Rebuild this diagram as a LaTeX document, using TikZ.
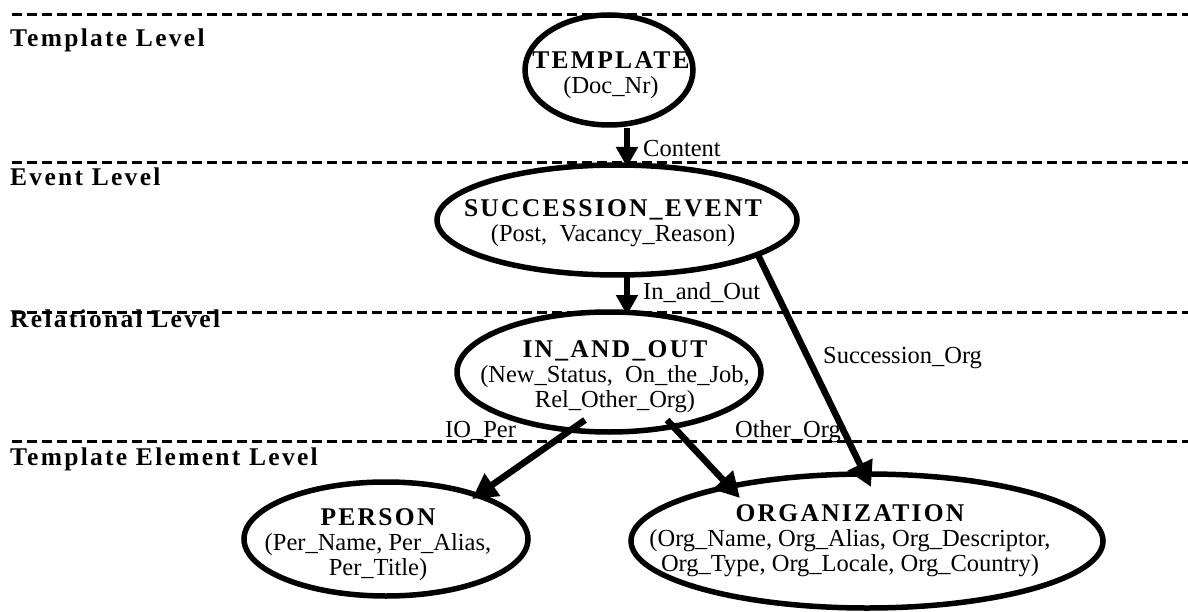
\documentclass[tikz,border=0pt]{standalone}
\usepackage{fontspec}
\setmainfont{Liberation Serif}
\newfontfamily\spfont[LetterSpace=9]{Liberation Serif}
\usetikzlibrary{arrows.meta,shapes.geometric}
\newcommand\mytitle[1]{{\spfont\bfseries\fontsize{25.5}{25}\selectfont #1}}
\begin{document}
\begin{tikzpicture}[x=1pt,y=-1pt,
  lvl/.style={line width=3pt, dash pattern=on 10pt off 5pt},
  lvltext/.style={anchor=base west, inner sep=0pt, font=\spfont\bfseries\fontsize{25.5}{25}\selectfont},
  ell/.style={draw, ellipse, line width=5.5pt, inner sep=0pt},
  body/.style={align=center, inner sep=0pt, font=\fontsize{24.5}{25}\selectfont},
  arr/.style={line width=5.5pt, -{Triangle[length=20pt,width=21pt]}},
  bigarr/.style={line width=6.5pt, -{Triangle[length=25pt,width=26pt]}},
  elabel/.style={anchor=base west, inner sep=0pt, font=\fontsize{24.5}{25}\selectfont}]
\useasboundingbox (0,0) rectangle (1188,612);

% level separators
\draw[lvl] (12,15) -- (1188,15);
\draw[lvl] (12,163) -- (1188,163);
\draw[lvl] (12,312) -- (1188,312);
\draw[lvl] (12,441) -- (1188,441);

\node[lvltext] (l1) at (10,47) {Template Level};
\node[lvltext] (l2) at (10,186) {Event Level};
\node[lvltext] (l3) at (10,327) {Relational Level};
\node[lvltext] (l4) at (10,465) {Template Element Level};

% ellipses
\node[ell, minimum width=168pt, minimum height=110pt] (tpl) at (609,70) {};
\node[body] (tplt) at (611,75) {\mytitle{TEMPLATE}\\(Doc\_Nr)};

\node[ell, minimum width=360pt, minimum height=110pt] (se) at (617,220) {};
\node[body] (set) at (613,223) {\mytitle{SUCCESSION\_EVENT}\\(Post,\ \ Vacancy\_Reason)};

\node[ell, minimum width=304pt, minimum height=120pt] (io) at (609,372) {};
\node[body] (iot) at (615,377) {\mytitle{IN\_AND\_OUT}\\(New\_Status,\ \ On\_the\_Job,\\Rel\_Other\_Org)};

\node[ell, minimum width=284pt, minimum height=114pt] (per) at (386,539) {};
\node[body] (pert) at (378,545) {\mytitle{PERSON}\\(Per\_Name, Per\_Alias,\\Per\_Title)};

\node[ell, minimum width=472pt, minimum height=134pt] (org) at (867,541) {};
\node[body] (orgt) at (850,541) {\mytitle{ORGANIZATION}\\(Org\_Name, Org\_Alias, Org\_Descriptor,\\Org\_Type, Org\_Locale, Org\_Country)};

% connectors
\draw[arr] ([xshift=18pt,yshift=-58pt]tpl.center) -- ([xshift=10pt,yshift=53pt]se.center);
\draw[arr] ([xshift=10pt,yshift=-57pt]se.center) -- ([xshift=18pt,yshift=57pt]io.center);
\draw[bigarr] ([xshift=140pt,yshift=-33pt]se.center) -- ([xshift=4pt,yshift=54pt]org.center);
\draw[bigarr] ([xshift=-24pt,yshift=-48pt]io.center) -- ([xshift=86pt,yshift=40pt]per.center);
\draw[bigarr] ([xshift=58pt,yshift=-48pt]io.center) -- ([xshift=-127pt,yshift=43pt]org.center);

% connector labels
\node[elabel] (lc) at (643,157) {Content};
\node[elabel] (lio) at (643,299) {In\_and\_Out};
\node[elabel] (lso) at (823,363) {Succession\_Org};
\node[elabel] (lp) at (445,437) {IO\_Per};
\node[elabel] (lo) at (735,437) {Other\_Org};
\end{tikzpicture}
\end{document}
